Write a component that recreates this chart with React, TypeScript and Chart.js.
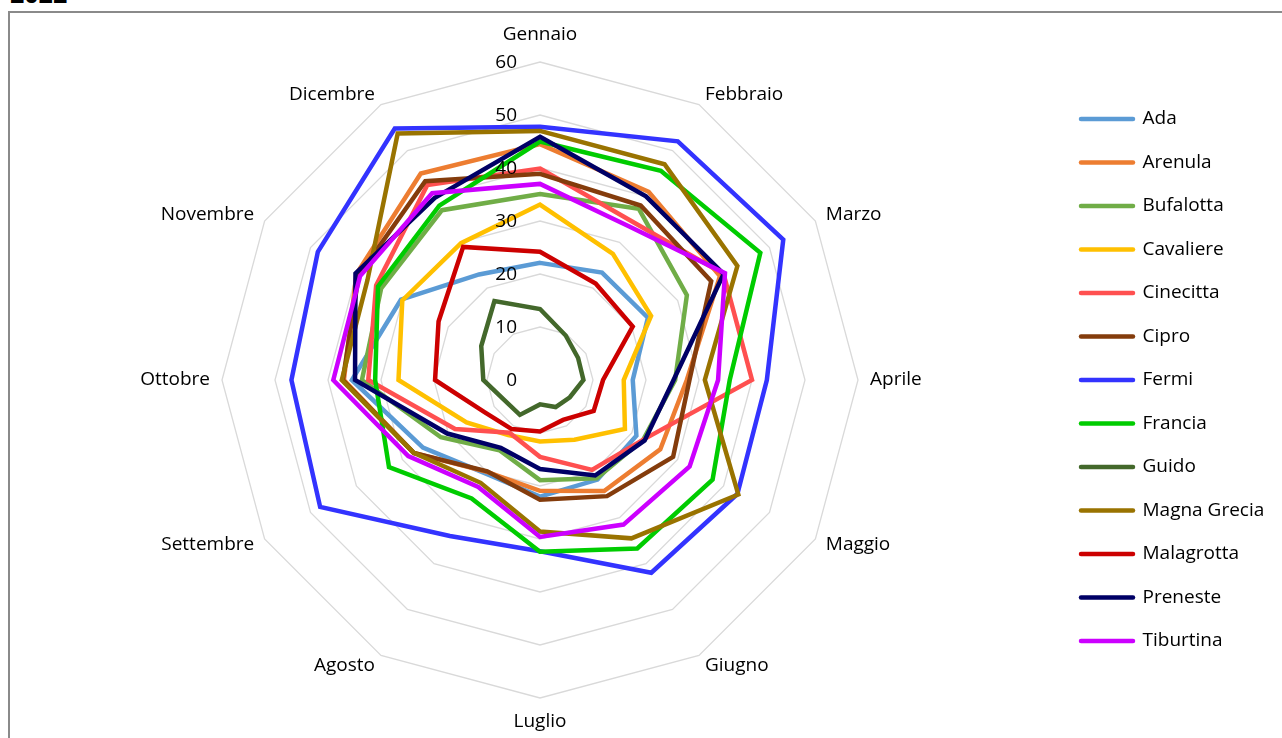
import React, { useEffect, useRef } from 'react';
import { Chart, registerables } from 'chart.js';

Chart.register(...registerables);

const months = ['Gennaio', 'Febbraio', 'Marzo', 'Aprile', 'Maggio', 'Giugno', 'Luglio', 'Agosto', 'Settembre', 'Ottobre', 'Novembre', 'Dicembre'];
const tickValues = [0, 10, 20, 30, 40, 50, 60];

const ada = [22.1, 23.4, 23.5, 17.5, 21, 21.7, 22, 20.4, 25.5, 35.5, 30.3, 23];
const arenula = [44.5, 41, 39.2, 27.7, 26.2, 24.2, 20.9, 20, 27.5, 37, 40, 45];
const bufalotta = [35.1, 37.3, 32, 25.5, 22.5, 21.4, 18.9, 15.3, 21.6, 33.6, 34.6, 37];
const cavaliere = [33.1, 27.5, 24.2, 15.8, 18.5, 13, 11.6, 12, 16, 26.7, 30, 29.8];
const cinecitta = [39.9, 34.6, 40, 40, 22.5, 19.6, 14.5, 11.5, 18.5, 32.4, 35.7, 42.5];
const cipro = [38.9, 38, 37.3, 28.2, 29, 25.3, 22.6, 19.9, 27.5, 37.2, 39.5, 43.3];
const fermi = [47.8, 52, 53, 42.8, 43, 42, 32.3, 34, 47.9, 46.9, 48.4, 54.8];
const francia = [45, 45.6, 48, 35.8, 37.6, 36.7, 32.4, 25.8, 32.9, 31.1, 35.3, 38];
const guido = [13.4, 9.7, 8.3, 8.2, 6.5, 5.9, 4.6, 7.6, 7.7, 10.7, 12.8, 17.2];
const magnaGrecia = [47, 47, 43, 31.1, 43.2, 34.5, 28.6, 22.4, 27.5, 37.4, 37.6, 53.7];
const malagrotta = [24.2, 21, 20.2, 11.9, 11.7, 8.7, 9.7, 10.7, 12.1, 19.8, 22.1, 29];
const preneste = [45.9, 40, 40, 25.2, 22.8, 20.8, 16.8, 14.8, 20.2, 34.9, 40.2, 39.7];
const tiburtina = [37, 33.5, 40.3, 33.6, 32.6, 31.5, 29.6, 23.3, 28.7, 39, 39.2, 40.7];

const seriesNames = ['Ada', 'Arenula', 'Bufalotta', 'Cavaliere', 'Cinecitta', 'Cipro', 'Fermi', 'Francia', 'Guido', 'Magna Grecia', 'Malagrotta', 'Preneste', 'Tiburtina'];
const seriesValues = [ada, arenula, bufalotta, cavaliere, cinecitta, cipro, fermi, francia, guido, magnaGrecia, malagrotta, preneste, tiburtina];
const seriesColors = ['#5B9BD5', '#ED7D31', '#70AD47', '#FFC000', '#FF5050', '#843C0C', '#3333FF', '#00CC00', '#43682B', '#997300', '#CC0000', '#000066', '#CC00FF'];

const FONT_FAMILY = "'Open Sans'";
const FONT_SIZE = 19;
const LEGEND_PAD = 24.5;
const LINE_W = 4.5;

const labelPlugin = {
  id: 'excelLabels',
  afterDatasetsDraw(chart: any) {
    const scale = chart.scales.r;
    const ctx = chart.ctx;
    ctx.save();
    ctx.font = `${FONT_SIZE}px ${FONT_FAMILY}`;
    ctx.fillStyle = '#000000';
    ctx.textBaseline = 'middle';
    const R = scale.drawingArea;
    months.forEach((m, i) => {
      const deg = Math.round((scale.getIndexAngle(i) * 180) / Math.PI) % 360;
      let d = R + 12;
      let align = 'left';
      if (deg === 0) { d = R + 27; align = 'center'; }
      else if (deg === 180) { d = R + 24; align = 'center'; }
      else if (deg > 180) { align = 'right'; }
      const p = scale.getPointPosition(i, d);
      ctx.textAlign = align;
      ctx.fillText(m, p.x, p.y);
    });
    ctx.textAlign = 'right';
    scale.ticks.forEach((t: any) => {
      if (!tickValues.includes(t.value)) return;
      const dist = scale.getDistanceFromCenterForValue(t.value);
      ctx.fillText(String(t.value), scale.xCenter - 23, scale.yCenter - dist + 1);
    });
    ctx.restore();
  },
};

export default function App() {
  const canvasRef = useRef<HTMLCanvasElement | null>(null);

  useEffect(() => {
    const canvas = canvasRef.current;
    if (!canvas) return;
    const mctx = document.createElement('canvas').getContext('2d')!;
    mctx.font = `${FONT_SIZE}px ${FONT_FAMILY}`;
    const maxText = Math.max(...seriesNames.map((n) => mctx.measureText(n).width));
    const boxW = 52;
    const colW = boxW + FONT_SIZE / 2 + maxText;
    const padRight = 191 - colW;

    const chart = new Chart(canvas, {
      type: 'radar',
      data: {
        labels: months,
        datasets: seriesNames.map((name, i) => ({
          label: name,
          data: seriesValues[i],
          borderColor: seriesColors[i],
          backgroundColor: seriesColors[i],
          borderWidth: LINE_W,
          fill: false,
          pointRadius: 0,
          pointHoverRadius: 0,
          tension: 0,
          order: seriesNames.length - i,
        })),
      },
      options: {
        animation: false,
        responsive: false,
        maintainAspectRatio: false,
        devicePixelRatio: 1,
        layout: { padding: { left: LEGEND_PAD, right: padRight, top: 62, bottom: 40 } },
        scales: {
          r: {
            min: 0,
            max: 60,
            ticks: { stepSize: 10, display: false },
            grid: { color: '#D9D9D9', lineWidth: 1.3, circular: false },
            angleLines: { display: false },
            pointLabels: { display: false },
          },
        },
        plugins: {
          title: { display: false },
          tooltip: { enabled: false },
          legend: {
            position: 'right',
            labels: {
              usePointStyle: true,
              pointStyle: 'line',
              pointStyleWidth: boxW,
              boxHeight: FONT_SIZE,
              padding: LEGEND_PAD,
              color: '#000000',
              font: { family: FONT_FAMILY, size: FONT_SIZE },
              generateLabels: (ch: any) =>
                ch.data.datasets.map((ds: any, i: number) => ({
                  text: ds.label,
                  fillStyle: ds.borderColor,
                  strokeStyle: ds.borderColor,
                  lineWidth: LINE_W,
                  lineCap: 'round',
                  pointStyle: 'line',
                  hidden: false,
                  datasetIndex: i,
                  fontColor: '#000000',
                })),
            },
          },
        },
      },
      plugins: [labelPlugin],
    } as any);
    return () => chart.destroy();
  }, []);

  return (
    <div style={{ position: 'fixed', left: 0, top: 0, width: 1282, height: 738, overflow: 'hidden', background: '#ffffff' }}>
      <div
        style={{
          position: 'absolute',
          left: 10,
          top: -22,
          fontFamily: 'Open Sans',
          fontWeight: 'bold',
          fontSize: 25,
          lineHeight: '30px',
          color: '#000',
        }}
      >
        2022
      </div>
      <div
        style={{
          position: 'absolute',
          left: 8,
          top: 11,
          width: 1300,
          height: 800,
          border: '2px solid #8A8A8A',
          boxSizing: 'border-box',
        }}
      />
      <canvas
        ref={canvasRef}
        width={1282}
        height={738}
        style={{ position: 'absolute', left: 0, top: 0, width: 1282, height: 738 }}
      />
    </div>
  );
}
